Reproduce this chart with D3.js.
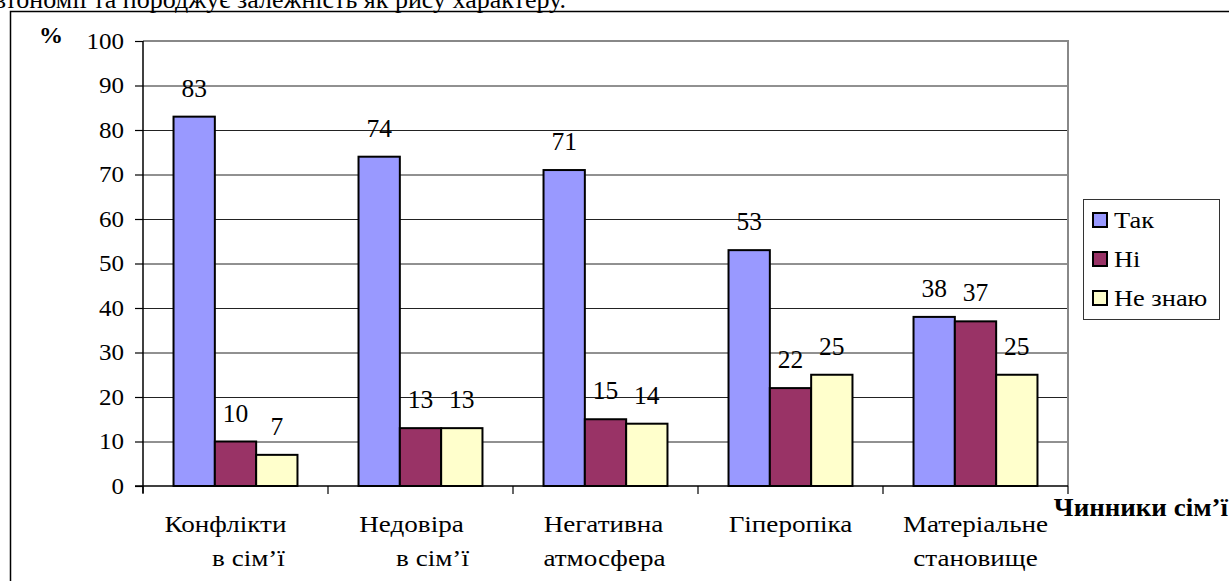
<!DOCTYPE html>
<html>
<head>
<meta charset="utf-8">
<script src="https://cdn.jsdelivr.net/npm/d3@7"></script>
<style>
  body { margin: 0; background: #fff; }
  svg { display: block; }
  svg text { font-family: "Liberation Serif", "DejaVu Serif", serif; fill: #000; }
</style>
</head>
<body>
<svg id="chart" width="1229" height="581"></svg>
<script>
// data
const categories = ["Конфлікти в сім’ї", "Недовіра в сім’ї", "Негативна атмосфера", "Гіперопіка", "Матеріальне становище"];
const categoryLines = [["Конфлікти", "в сім’ї"], ["Недовіра", "в сім’ї"], ["Негативна", "атмосфера"], ["Гіперопіка"], ["Матеріальне", "становище"]];
const series = ["Так", "Ні", "Не знаю"];
const yes = [83, 74, 71, 53, 38];
const no = [10, 13, 15, 22, 37];
const dontKnow = [7, 13, 14, 25, 25];
const yTicks = [0, 10, 20, 30, 40, 50, 60, 70, 80, 90, 100];

const colors = ["#9999ff", "#993366", "#ffffcc"];
const values = [yes, no, dontKnow];

const svg = d3.select("#chart");

// the chart was pasted a bit wider than tall, so its text is stretched sideways
function stretch(sel, sx) {
  sel.attr("transform", function () {
    const x = +this.getAttribute("x") || 0;
    return `translate(${x * (1 - sx)},0) scale(${sx},1)`;
  });
}

// cut text line from the page above
svg.append("text")
  .attr("x", 566).attr("y", 8)
  .attr("text-anchor", "end")
  .attr("font-size", 26)
  .text("автономії та породжує залежність як рису характеру.");

// outer frame
svg.append("rect")
  .attr("x", 10.5).attr("y", 11.5)
  .attr("width", 1240).attr("height", 600)
  .attr("fill", "none").attr("stroke", "#000").attr("stroke-width", 1.5);

const pLeft = 143, pRight = 1068, pTop = 41, pBottom = 486;

const y = d3.scaleLinear().domain([0, 100]).range([pBottom, pTop]);
const x0 = d3.scaleBand().domain(categories).range([pLeft, pRight])
  .paddingInner(0.33).paddingOuter(0.165);
const x1 = d3.scaleBand().domain(series).range([0, x0.bandwidth()]);

// gridlines
svg.append("g")
  .attr("transform", `translate(${pLeft},0)`)
  .call(d3.axisLeft(y).tickValues(yTicks.slice(1)).tickSize(-(pRight - pLeft)).tickFormat(""))
  .call(g => g.select(".domain").remove())
  .call(g => g.selectAll("line").attr("stroke", "#222").attr("stroke-width", 1));

// plot border (right and top), gray
svg.append("path")
  .attr("d", `M${pLeft},${pTop}H${pRight}V${pBottom}`)
  .attr("fill", "none").attr("stroke", "#888").attr("stroke-width", 2);

// bars
const groups = svg.append("g").selectAll("g")
  .data(categories)
  .join("g")
  .attr("transform", d => `translate(${x0(d)},0)`);

groups.selectAll("rect")
  .data((c, i) => series.map((s, j) => ({ s, v: values[j][i], j })))
  .join("rect")
  .attr("x", d => x1(d.s))
  .attr("y", d => y(d.v))
  .attr("width", x1.bandwidth())
  .attr("height", d => y(0) - y(d.v))
  .attr("fill", d => colors[d.j])
  .attr("stroke", "#000")
  .attr("stroke-width", 2);

groups.selectAll("text")
  .data((c, i) => series.map((s, j) => ({ s, v: values[j][i], j })))
  .join("text")
  .attr("x", d => x1(d.s) + x1.bandwidth() / 2)
  .attr("y", d => y(d.v) - 20)
  .attr("text-anchor", "middle")
  .attr("font-size", 25.5)
  .text(d => d.v);

// y axis
const yAxis = svg.append("g")
  .attr("transform", `translate(${pLeft},0)`)
  .call(d3.axisLeft(y).tickValues(yTicks).tickSize(8).tickPadding(11))
  .call(g => g.select(".domain").attr("d", `M0,${pTop}V${pBottom + 7}`).attr("stroke-width", 1.5));
yAxis.attr("font-family", null);
yAxis.selectAll("line").attr("stroke-width", 1.2);
yAxis.selectAll("text")
  .attr("font-size", 23)
  .attr("fill", "#000")
  .call(stretch, 1.09);

// x axis line and category ticks
const step = x0.step();
svg.append("line")
  .attr("x1", pLeft - 8).attr("x2", pRight)
  .attr("y1", pBottom).attr("y2", pBottom)
  .attr("stroke", "#000").attr("stroke-width", 1.5);
svg.append("g").selectAll("line")
  .data(d3.range(categories.length + 1))
  .join("line")
  .attr("x1", i => pLeft + i * step).attr("x2", i => pLeft + i * step)
  .attr("y1", pBottom).attr("y2", pBottom + 8)
  .attr("stroke", "#000").attr("stroke-width", 1.2);

// category labels (second lines are indented like in the source)
const lineShift = [[-10, 13], [-9, 12], [-2, -1], [0], [0, 0]];
categories.forEach((c, i) => {
  const cx = x0(c) + x0.bandwidth() / 2;
  categoryLines[i].forEach((ln, k) => {
    svg.append("text")
      .attr("x", cx + lineShift[i][k])
      .attr("y", 532 + k * 34)
      .attr("text-anchor", "middle")
      .attr("font-size", 24)
      .text(ln)
      .call(stretch, 1.13);
  });
});

// axis titles
svg.append("text")
  .attr("x", 39).attr("y", 43)
  .attr("font-size", 24).attr("font-weight", "bold")
  .text("%");
svg.append("text")
  .attr("x", 1228).attr("y", 516)
  .attr("text-anchor", "end")
  .attr("font-size", 25).attr("font-weight", "bold")
  .text("Чинники сім’ї")
  .call(stretch, 1.08);

// legend
const legend = svg.append("g").attr("transform", "translate(1083,199)");
legend.append("rect")
  .attr("x", 0.5).attr("y", 0.5).attr("width", 136).attr("height", 120)
  .attr("fill", "#fff").attr("stroke", "#333").attr("stroke-width", 1);
const items = legend.selectAll("g.item")
  .data(series)
  .join("g")
  .attr("class", "item")
  .attr("transform", (d, i) => `translate(10,${21 + i * 39})`);
items.append("rect")
  .attr("x", 0).attr("y", -7).attr("width", 14).attr("height", 14)
  .attr("fill", (d, i) => colors[i])
  .attr("stroke", "#000").attr("stroke-width", 2);
items.append("text")
  .attr("x", 21).attr("y", 8)
  .attr("font-size", 24)
  .text(d => d)
  .call(stretch, 1.1);
</script>
</body>
</html>
